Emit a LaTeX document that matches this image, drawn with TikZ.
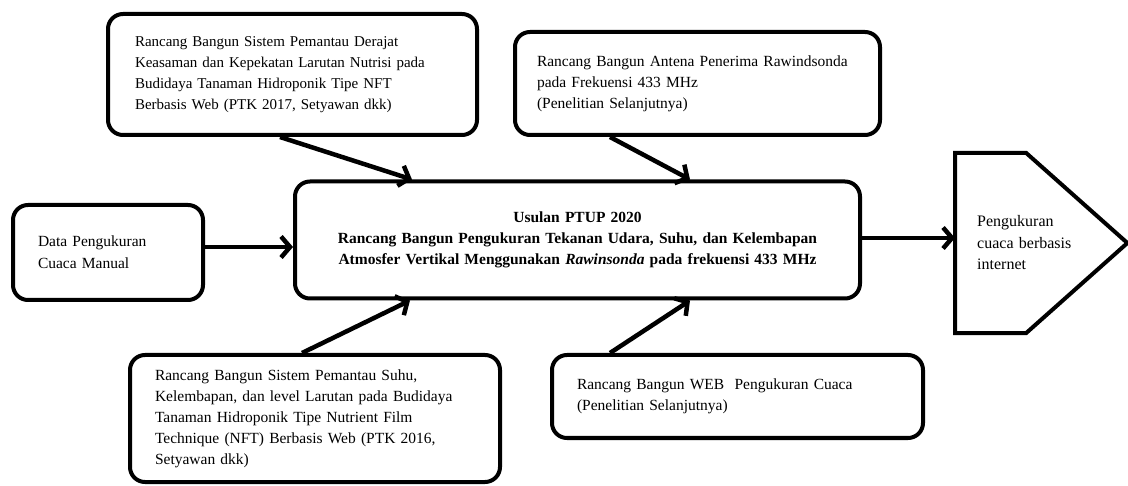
\documentclass[tikz,border=0pt]{standalone}
\usepackage{fontspec}
\setmainfont{Liberation Serif}
\usetikzlibrary{arrows.meta}
\begin{document}
\begin{tikzpicture}[x=1pt,y=-1pt,
  box/.style={draw, line width=4pt, rounded corners=15pt, align=left,
    font=\fontsize{15.5}{21}\selectfont, inner ysep=0pt, anchor=center},
  arr/.style={line width=4.5pt, -{Straight Barb[length=9pt,width=21pt]}}]
\useasboundingbox (0,0) rectangle (1128,486);
% main box
\node[box, align=center, minimum width=565pt, minimum height=117pt, text width=540pt,
  font=\fontsize{15.5}{21}\selectfont\bfseries] (main) at (577.5,240)
  {Usulan PTUP 2020\\Rancang Bangun Pengukuran Tekanan Udara, Suhu, dan Kelembapan\\Atmosfer Vertikal Menggunakan \textit{Rawinsonda} pada frekuensi 433 MHz\\[12pt]};
% top-left
\node[box, minimum width=369pt, minimum height=121pt, inner xsep=27pt, text width=315pt,
  font=\fontsize{15}{21}\selectfont] (b1) at (292.5,74.5)
  {Rancang Bangun Sistem Pemantau Derajat\\Keasaman dan Kepekatan Larutan Nutrisi pada\\Budidaya Tanaman Hidroponik Tipe NFT\\Berbasis Web (PTK 2017, Setyawan dkk)};
% top-right
\node[box, minimum width=365pt, minimum height=103pt, inner xsep=22pt, text width=321pt] (b2) at (697.5,83.5)
  {Rancang Bangun Antena Penerima Rawindsonda\\pada Frekuensi 433 MHz\\(Penelitian Selanjutnya)\\[8pt]};
% left
\node[box, minimum width=190pt, minimum height=95pt, inner xsep=25pt, text width=140pt,
  font=\fontsize{15.5}{22}\selectfont] (b3) at (108,252.5)
  {Data Pengukuran\\Cuaca Manual};
% bottom-left
\node[box, minimum width=370pt, minimum height=127pt, inner xsep=25pt, text width=320pt] (b4) at (315,418.5)
  {Rancang Bangun Sistem Pemantau Suhu,\\Kelembapan, dan level Larutan pada Budidaya\\Tanaman Hidroponik Tipe Nutrient Film\\Technique (NFT) Berbasis Web (PTK 2016,\\Setyawan dkk)};
% bottom-right
\node[box, minimum width=371pt, minimum height=83pt, inner xsep=25pt, text width=321pt,
  font=\fontsize{15.5}{20.5}\selectfont] (b5) at (737.5,396.5)
  {Rancang Bangun WEB\ \ Pengukuran Cuaca\\(Penelitian Selanjutnya)};
% pentagon
\node[anchor=west, minimum width=172pt, minimum height=180pt, inner xsep=22pt, text width=128pt,
  align=left, font=\fontsize{16}{21.5}\selectfont] (pent) at (955,243)
  {Pengukuran\\cuaca berbasis\\internet\\[4pt]};
\draw[line width=4pt, line join=miter] (pent.north west) -- ([xshift=71pt]pent.north west) -- (pent.east)
  -- ([xshift=71pt]pent.south west) -- (pent.south west) -- cycle;
% connectors
\draw[arr] (b1.south -| 280,0) -- (main.north -| 412,0);
\draw[arr] (b2.south -| 610,0) -- (main.north -| 690,0);
\draw[arr] (b4.north -| 302,0) -- (main.south -| 410,0);
\draw[arr] (b5.north -| 610,0) -- (main.south -| 690,0);
\draw[arr] (b3.east |- 0,247) -- (main.west |- 0,247);
\draw[arr] (main.east |- 0,238) -- (pent.west |- 0,238);
\end{tikzpicture}
\end{document}
